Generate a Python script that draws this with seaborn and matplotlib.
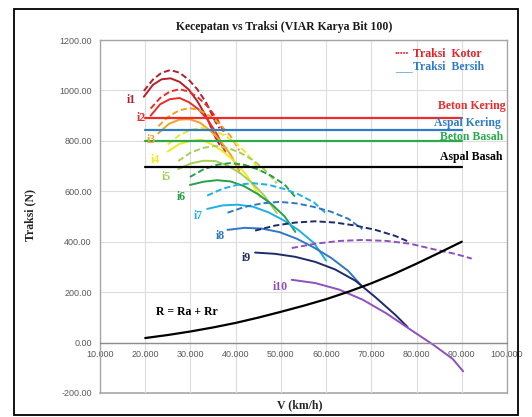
import numpy as np
import pandas as pd
import matplotlib
matplotlib.use("Agg")
import matplotlib.pyplot as plt
from matplotlib.patches import Rectangle
import seaborn as sns

# ---- data -------------------------------------------------------------
gears = ["i1", "i2", "i3", "i4", "i5", "i6", "i7", "i8", "i9", "i10"]

speed_i1 = [19.7, 21.7, 23.6, 25.6, 27.6, 29.6, 31.5, 33.5, 35.5, 36.4]
kotor_i1 = [998, 1043, 1070, 1081, 1070, 1043, 1005, 951, 876, 850]
bersih_i1 = [975, 1022, 1044, 1048, 1034, 1004, 958, 897, 815, 786]

speed_i2 = [21.2, 23.3, 25.4, 27.6, 29.7, 31.8, 33.9, 36.0, 37.7]
kotor_i2 = [928, 970, 995, 1005, 995, 970, 935, 884, 824]
bersih_i2 = [900, 945, 965, 970, 953, 925, 882, 822, 756]

speed_i3 = [22.9, 25.2, 27.5, 29.8, 32.1, 34.4, 36.6, 38.9, 40.8]
kotor_i3 = [858, 897, 921, 930, 921, 897, 865, 818, 762]
bersih_i3 = [830, 867, 884, 886, 872, 840, 801, 745, 681]

speed_i4 = [25.0, 27.5, 30.0, 32.5, 35.0, 37.5, 40.0, 42.5, 45.4]
kotor_i4 = [786, 822, 843, 852, 843, 822, 792, 750, 680]
bersih_i4 = [758, 787, 800, 804, 784, 754, 714, 662, 577]

speed_i5 = [27.3, 30.0, 32.8, 35.5, 38.2, 41.0, 43.7, 46.4, 49.1]
kotor_i5 = [720, 753, 772, 780, 772, 753, 725, 686, 632]
bersih_i5 = [688, 710, 721, 720, 702, 672, 632, 581, 514]

speed_i6 = [29.9, 32.9, 35.9, 38.9, 41.9, 44.9, 47.8, 50.8, 53.2]
kotor_i6 = [657, 687, 705, 712, 705, 687, 662, 627, 577]
bersih_i6 = [625, 638, 644, 639, 620, 589, 551, 501, 439]

speed_i7 = [33.7, 37.1, 40.4, 43.8, 47.2, 50.6, 53.9, 57.3, 60.0]
kotor_i7 = [583, 610, 626, 632, 626, 610, 588, 556, 512]
bersih_i7 = [530, 544, 547, 539, 517, 485, 446, 395, 325]

speed_i8 = [38.2, 42.0, 45.8, 49.7, 53.5, 57.3, 61.1, 64.9, 68.0]
kotor_i8 = [515, 538, 552, 558, 552, 538, 519, 491, 450]
bersih_i8 = [447, 455, 452, 438, 412, 377, 336, 284, 222]

speed_i9 = [44.3, 48.7, 53.2, 57.6, 62.0, 66.5, 70.9, 75.3, 78.0]
kotor_i9 = [444, 464, 476, 481, 476, 464, 447, 423, 402]
bersih_i9 = [357, 352, 340, 320, 290, 245, 180, 110, 62]

speed_i10 = [52.4, 57.6, 62.9, 68.1, 73.4, 78.6, 83.8, 88.0, 90.3, 92.2]
kotor_i10 = [375, 392, 403, 407, 403, 392, 370, 354, 343, 333]
bersih_i10 = [249, 236, 210, 170, 115, 52, -10, -65, -114, np.nan]

speed_r = [20, 25, 30, 35, 40, 45, 50, 55, 60, 65, 70, 75, 80, 85, 90]
resist_r = [18, 30, 44, 60, 78, 99, 122, 146, 172, 202, 235, 272, 313, 356, 400]

surfaces = ["Beton Kering", "Aspal Kering", "Beton Basah", "Aspal Basah"]
surface_limit = [890, 845, 798, 695]
surface_span = [20, 90]

x_ticks = [10, 20, 30, 40, 50, 60, 70, 80, 90, 100]
y_ticks = [-200, 0, 200, 400, 600, 800, 1000, 1200]

# ---- styling ----------------------------------------------------------
gear_colors = ["#B3202C", "#EE2B2B", "#F4A21E", "#F2EA1C", "#A6CF5A",
               "#27A047", "#1EB0E6", "#2F78C2", "#1D2B6B", "#8E4FBF"]
surface_colors = ["#EE2B2B", "#2F7CC6", "#2DAA4F", "#000000"]

sns.set_theme(style="white")
plt.rcParams["font.family"] = ["DejaVu Sans"]
SERIF = ["Liberation Serif", "DejaVu Serif"]

W, H = 532, 417
fig = plt.figure(figsize=(W / 100, H / 100), dpi=100)
ax = fig.add_axes([100 / W, 1 - 393 / H, 407 / W, 353 / H])


def fx(px):
    return px / W


def fy(py):
    return 1 - py / H


# gear curves: dashed = gross traction, solid = net traction
speeds = [speed_i1, speed_i2, speed_i3, speed_i4, speed_i5,
          speed_i6, speed_i7, speed_i8, speed_i9, speed_i10]
kotors = [kotor_i1, kotor_i2, kotor_i3, kotor_i4, kotor_i5,
          kotor_i6, kotor_i7, kotor_i8, kotor_i9, kotor_i10]
bersihs = [bersih_i1, bersih_i2, bersih_i3, bersih_i4, bersih_i5,
           bersih_i6, bersih_i7, bersih_i8, bersih_i9, bersih_i10]

for g, v, k, b, c in zip(gears, speeds, kotors, bersihs, gear_colors):
    dk = pd.DataFrame({"v": v, "F": k})
    db = pd.DataFrame({"v": v, "F": b}).dropna()
    sns.lineplot(data=dk, x="v", y="F", ax=ax, color=c, lw=1.4,
                 sort=False, estimator=None, dashes=False)
    ax.lines[-1].set_dashes([3.2, 1.6])
    sns.lineplot(data=db, x="v", y="F", ax=ax, color=c, lw=1.4,
                 sort=False, estimator=None)

# adhesion limits per road surface
for name, lim, c in zip(surfaces, surface_limit, surface_colors):
    ds = pd.DataFrame({"v": surface_span, "F": [lim, lim]})
    sns.lineplot(data=ds, x="v", y="F", ax=ax, color=c, lw=1.6,
                 estimator=None)

# total resistance
dr = pd.DataFrame({"v": speed_r, "F": resist_r})
sns.lineplot(data=dr, x="v", y="F", ax=ax, color="black", lw=1.6,
             estimator=None)

# ---- axes -------------------------------------------------------------
ax.set_xlim(10, 100)
ax.set_ylim(-200, 1200)
ax.set_xticks(x_ticks)
ax.set_xticklabels([f"{t:.3f}" for t in x_ticks])
ax.set_yticks(y_ticks)
ax.set_yticklabels([f"{t:.2f}" for t in y_ticks])
ax.set_xlabel("")
ax.set_ylabel("")
ax.grid(True, color="#DCDCDC", lw=0.8)
ax.set_axisbelow(True)
for side in ["left", "top", "right"]:
    ax.spines[side].set_color("#A6A6A6")
    ax.spines[side].set_linewidth(1.0)
ax.spines["bottom"].set_position(("data", 0))
ax.spines["bottom"].set_color("#8C8C8C")
ax.spines["bottom"].set_linewidth(1.0)
ax.axhline(-200, color="#A6A6A6", lw=1.2, clip_on=False, zorder=0.5)
ax.tick_params(axis="both", length=0, labelsize=6.5, labelcolor="#595959")
ax.tick_params(axis="x", pad=5)
ax.tick_params(axis="y", pad=6)
for lab in ax.get_xticklabels() + ax.get_yticklabels():
    lab.set_family(["Liberation Sans", "DejaVu Sans"])

# ---- texts ------------------------------------------------------------
fig.text(fx(284), fy(27), "Kecepatan vs Traksi (VIAR Karya Bit 100)",
         ha="center", va="center", fontsize=8.5, fontweight="bold",
         family=SERIF, color="#1a1a1a")
fig.text(fx(30), fy(215), "Traksi (N)", rotation=90, ha="center",
         va="center", fontsize=8.5, fontweight="bold", family=SERIF)
fig.text(fx(300), fy(405), "V (km/h)", ha="center", va="center",
         fontsize=8.5, fontweight="bold", family=SERIF)

gear_label_pos = [(131, 100), (141, 118), (151, 140), (155, 160),
                  (166, 177), (181, 197), (198, 216), (220, 236),
                  (246, 258), (280, 287)]
for g, (px, py), c in zip(gears, gear_label_pos, gear_colors):
    fig.text(fx(px), fy(py), g, ha="center", va="center", fontsize=8.5,
             fontweight="bold", family=SERIF, color=c)

surface_label_pos = [(506, 106), (501, 123), (503, 137), (502, 157)]
for name, (px, py), c in zip(surfaces, surface_label_pos, surface_colors):
    fig.text(fx(px), fy(py), name, ha="right", va="center", fontsize=8.5,
             fontweight="bold", family=SERIF, color=c)

fig.text(fx(395), fy(54), ".....", ha="left", va="baseline",
         fontsize=8.5, fontweight="bold", family=SERIF, color="#E8202A")
fig.text(fx(413), fy(54), "Traksi  Kotor", ha="left", va="center",
         fontsize=8.5, fontweight="bold", family=SERIF, color="#E8202A")
fig.text(fx(395), fy(71), "___", ha="left", va="baseline",
         fontsize=8.5, family=SERIF, color="#3C8FD6")
fig.text(fx(413), fy(67), "Traksi  Bersih", ha="left", va="center",
         fontsize=8.5, fontweight="bold", family=SERIF, color="#2F7CC6")

fig.text(fx(187), fy(312), "R = Ra + Rr", ha="center", va="center",
         fontsize=8.5, fontweight="bold", family=SERIF, color="black")

# outer chart frame
fig.patches.append(Rectangle((fx(14), fy(415)), (518 - 14) / W,
                             (415 - 9) / H, transform=fig.transFigure,
                             fill=False, ec="black", lw=1.3))

fig.savefig("out.png", dpi=100)
